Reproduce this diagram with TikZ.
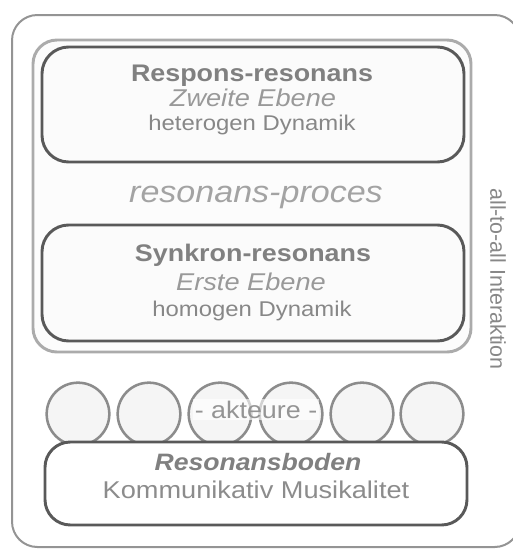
\documentclass[tikz,border=0pt]{standalone}
\usepackage{fontspec}
\setmainfont[FakeStretch=1.12]{Liberation Sans}
\newfontfamily\plainsans{Liberation Sans}
\begin{document}
\begin{tikzpicture}[x=0.75pt,y=-0.75pt,
  outerbox/.style={draw=black!42,line width=1.5pt,rounded corners=19pt,fill=white},
  procbox/.style={draw=black!33,line width=2.2pt,rounded corners=18pt,fill=black!1},
  levelbox/.style={draw=black!65,line width=2.2pt,rounded corners=20pt,fill=black!1.5},
  actor/.style={circle,draw=black!45,line width=1.9pt,fill=black!4,minimum size=47pt,inner sep=0pt},
  titletxt/.style={anchor=base,text=black!50,font=\fontsize{18pt}{20pt}\selectfont\bfseries},
  subtxt/.style={anchor=base,text=black!40,font=\fontsize{18.2pt}{20pt}\selectfont\itshape},
  dyntxt/.style={anchor=base,text=black!47,font=\fontsize{16pt}{18pt}\selectfont},
]
\useasboundingbox (0,0) rectangle (512,550);
% outer frame
\draw[outerbox] (12,15) rectangle (520,547);
\coordinate (outerC) at (498,279);
\node[rotate=-90,text=black!47,font=\plainsans\fontsize{16.1pt}{18pt}\selectfont] (interakt) at (outerC) {all-to-all Interaktion};
% resonans-proces box
\draw[procbox] (33,40) rectangle (471,352);
\node[anchor=base,text=black!36,font=\fontsize{22.8pt}{26pt}\selectfont\itshape] (proces) at (256,202) {resonans-proces};
% Respons box
\draw[levelbox] (42,47) rectangle (464,162);
\node[titletxt] (respT) at (252,81) {Respons-resonans};
\node[subtxt] (respS) at (253,106) {Zweite Ebene};
\node[dyntxt] (respD) at (252,130) {heterogen Dynamik};
% Synkron box
\draw[levelbox] (42,225) rectangle (464,341);
\node[titletxt] (synT) at (253,261) {Synkron-resonans};
\node[subtxt] (synS) at (251,290) {Erste Ebene};
\node[dyntxt] (synD) at (252,316) {homogen Dynamik};
% actors
\foreach \i/\x in {1/78,2/149,3/220,4/291,5/362,6/432}{
  \node[actor] (act\i) at (\x,414) {};
}
\node[anchor=base,text=black!42,fill=white,fill opacity=0.6,text opacity=1,inner sep=1pt,
  font=\fontsize{18pt}{20pt}\selectfont] (akteure) at (256,418) {- akteure -};
% Resonansboden
\draw[levelbox,fill=white,rounded corners=19pt] (45,442) rectangle (467,525);
\node[anchor=base,text=black!50,font=\fontsize{17.8pt}{20pt}\selectfont\bfseries\itshape] (bodenT) at (258,470) {Resonansboden};
\node[anchor=base,text=black!45,font=\fontsize{18.2pt}{20pt}\selectfont] (bodenS) at (256,498) {Kommunikativ Musikalitet};
\end{tikzpicture}
\end{document}
